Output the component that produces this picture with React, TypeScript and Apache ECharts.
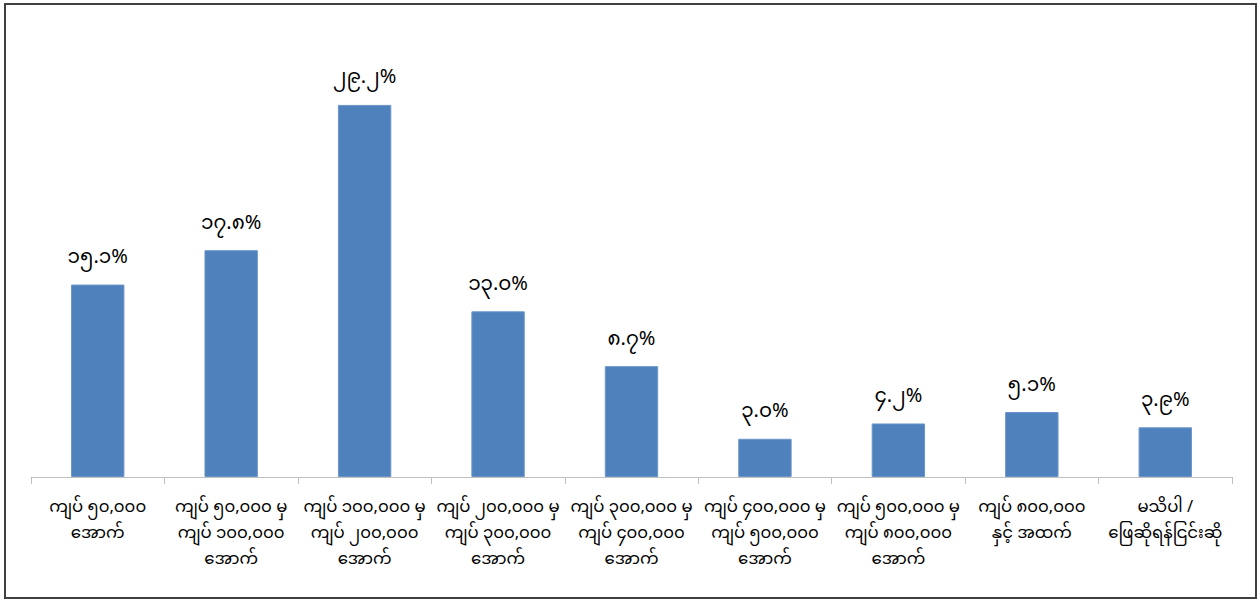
import React, { useEffect, useRef } from "react";
import * as echarts from "echarts";

const categories: string[] = [
  "ကျပ် ၅၀,၀၀၀\nအောက်",
  "ကျပ် ၅၀,၀၀၀ မှ\nကျပ် ၁၀၀,၀၀၀\nအောက်",
  "ကျပ် ၁၀၀,၀၀၀ မှ\nကျပ် ၂၀၀,၀၀၀\nအောက်",
  "ကျပ် ၂၀၀,၀၀၀ မှ\nကျပ် ၃၀၀,၀၀၀\nအောက်",
  "ကျပ် ၃၀၀,၀၀၀ မှ\nကျပ် ၄၀၀,၀၀၀\nအောက်",
  "ကျပ် ၄၀၀,၀၀၀ မှ\nကျပ် ၅၀၀,၀၀၀\nအောက်",
  "ကျပ် ၅၀၀,၀၀၀ မှ\nကျပ် ၈၀၀,၀၀၀\nအောက်",
  "ကျပ် ၈၀၀,၀၀၀\nနှင့် အထက်",
  "မသိပါ /\nဖြေဆိုရန်ငြင်းဆို",
];

const values: number[] = [15.1, 17.8, 29.2, 13.0, 8.7, 3.0, 4.2, 5.1, 3.9];

const valueLabels: string[] = [
  "၁၅.၁%",
  "၁၇.၈%",
  "၂၉.၂%",
  "၁၃.၀%",
  "၈.၇%",
  "၃.၀%",
  "၄.၂%",
  "၅.၁%",
  "၃.၉%",
];

const FONT = '"Noto Sans Myanmar", "Padauk", "Myanmar Text", "DejaVu Sans", sans-serif';

export default function App() {
  const ref = useRef<HTMLDivElement>(null);
  useEffect(() => {
    if (!ref.current) return;
    const chart = echarts.init(ref.current, null, { renderer: "svg" });
    chart.setOption({
      animation: false,
      backgroundColor: "#ffffff",
      grid: { left: 31, right: 28, top: 31, bottom: 125, containLabel: false },
      xAxis: {
        type: "category",
        data: categories,
        axisLine: { show: true, lineStyle: { color: "#bfbfbf", width: 1 } },
        axisTick: { show: true, length: 7, lineStyle: { color: "#bfbfbf" } },
        axisLabel: {
          interval: 0,
          color: "#000000",
          fontSize: 16.5,
          lineHeight: 26,
          fontFamily: FONT,
          margin: 18,
        },
      },
      yAxis: {
        type: "value",
        min: 0,
        max: 35,
        show: false,
        splitLine: { show: false },
      },
      series: [
        {
          type: "bar",
          data: values,
          barWidth: "40%",
          itemStyle: { color: "#4f81bd", borderColor: "#6b95c9", borderWidth: 1 },
          label: {
            show: true,
            position: "top",
            distance: 16,
            color: "#000000",
            fontSize: 20,
            fontFamily: FONT,
            formatter: (p: any) => valueLabels[p.dataIndex],
          },
        },
      ],
      graphic: [
        {
          type: "rect",
          shape: { x: 5, y: 4, width: 1251, height: 594 },
          style: { fill: "none", stroke: "#404040", lineWidth: 2 },
          silent: true,
        },
      ],
    });
    return () => chart.dispose();
  }, []);
  return (
    <div
      ref={ref}
      style={{ position: "absolute", left: 0, top: 0, width: 1260, height: 602 }}
    />
  );
}
